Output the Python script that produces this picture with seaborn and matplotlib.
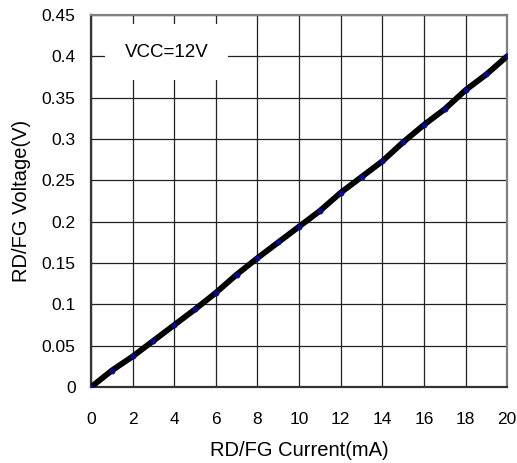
import numpy as np
import pandas as pd
import matplotlib
matplotlib.use('Agg')
import matplotlib.pyplot as plt
import seaborn as sns

# Valores
current_ma = [0, 1, 2, 3, 4, 5, 6, 7, 8, 9, 10, 11, 12, 13, 14, 15, 16, 17, 18, 19, 20]
voltage_v = [0, 0.020, 0.037, 0.056, 0.075, 0.094, 0.114, 0.136, 0.156, 0.175, 0.194,
             0.213, 0.235, 0.254, 0.273, 0.296, 0.317, 0.336, 0.359, 0.378, 0.400]
x_ticks = [0, 2, 4, 6, 8, 10, 12, 14, 16, 18, 20]
y_ticks = [0, 0.05, 0.1, 0.15, 0.2, 0.25, 0.3, 0.35, 0.4, 0.45]
y_labels = ['0', '0.05', '0.1', '0.15', '0.2', '0.25', '0.3', '0.35', '0.4', '0.45']

df = pd.DataFrame({'current': current_ma, 'voltage': voltage_v})

sns.set_style('white')
plt.rcParams['font.family'] = ['Liberation Sans', 'DejaVu Sans']

fig = plt.figure(figsize=(5.17, 4.63), dpi=100)
ax = fig.add_axes([0.176, 0.164, 0.805, 0.804])

sns.lineplot(data=df, x='current', y='voltage', ax=ax, color='black', linewidth=4.2,
             marker='o', markersize=3.5, markerfacecolor='#0a0a8c', markeredgecolor='#0a0a8c',
             zorder=3)

ax.set_xlim(0, 20)
ax.set_ylim(0, 0.45)
ax.set_xticks(x_ticks)
ax.set_yticks(y_ticks)
ax.set_yticklabels(y_labels)
ax.grid(True, color='#222222', linewidth=0.9)
ax.set_axisbelow(True)
ax.tick_params(axis='both', length=0, labelsize=12.5, colors='black')
ax.tick_params(axis='x', pad=18)
ax.tick_params(axis='y', pad=11)

for side in ['left', 'bottom']:
    ax.spines[side].set_color('#333333')
    ax.spines[side].set_linewidth(1.6)
for side in ['top', 'right']:
    ax.spines[side].set_color('#808080')
    ax.spines[side].set_linewidth(1.6)

ax.set_xlabel('RD/FG Current(mA)', fontsize=14.5, labelpad=10, color='black')
ax.set_ylabel('RD/FG Voltage(V)', fontsize=14.5, labelpad=8, color='black')

ax.text(3.63, 0.405, 'VCC=12V', fontsize=13.5, ha='center', va='center', zorder=4,
        color='black',
        bbox=dict(boxstyle='square,pad=1.05', facecolor='white', edgecolor='none'))

plt.savefig('out.png', dpi=100)
